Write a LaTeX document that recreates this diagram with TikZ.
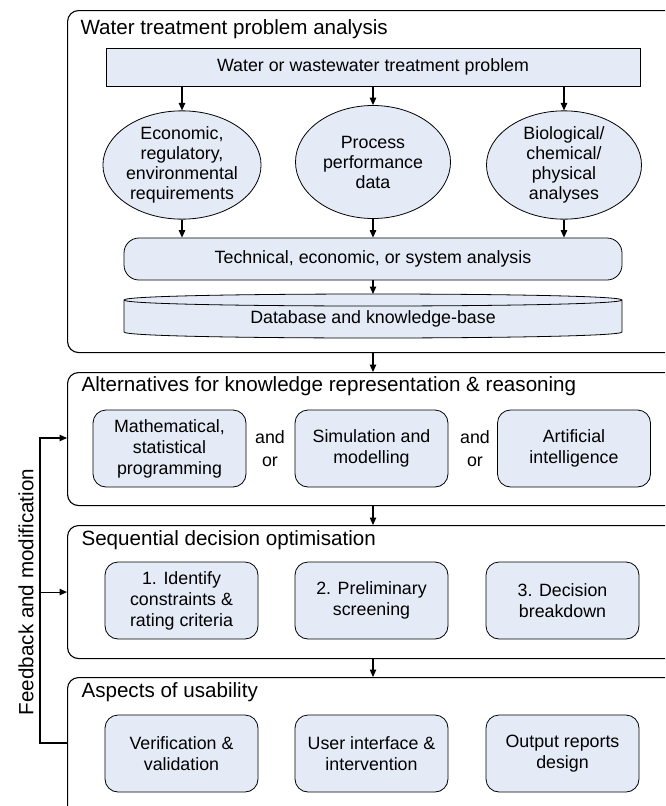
\documentclass[tikz,border=0pt]{standalone}
\usepackage{fontspec}
\setmainfont{Liberation Sans}
\usetikzlibrary{shapes.geometric,arrows.meta}
\definecolor{boxfill}{RGB}{229,235,246}
\begin{document}
\begin{tikzpicture}[x=1pt, y=-1pt,
    every node/.style={font=\fontsize{17.8}{21}\selectfont},
    panel/.style={draw, line width=1.1pt, rounded corners=11pt, minimum width=640pt, anchor=north west, inner sep=0pt},
    ptitle/.style={anchor=base west, font=\fontsize{20.6}{24}\selectfont},
    box/.style={draw, fill=boxfill, line width=0.8pt, rounded corners=13pt, minimum width=153pt, minimum height=77pt, align=center, inner sep=2pt},
    bubble/.style={draw, fill=boxfill, line width=0.8pt, ellipse, minimum width=155pt, minimum height=104pt, inner sep=0pt, align=center, font=\fontsize{17.8}{20}\selectfont},
    flow/.style={-{Triangle[length=7.5pt,width=6.5pt]}, line width=1.1pt}]
    \useasboundingbox (0,0) rectangle (665,806) ;
    \clip (0,0) rectangle (665,806) ;

    \node[panel, minimum height=342pt] (pA) at (67,10) {} ;
    \node[panel, minimum height=133pt] (pB) at (67,372) {} ;
    \node[panel, minimum height=133pt] (pC) at (67,525) {} ;
    \node[panel, minimum height=170pt] (pD) at (67,677) {} ;
    \node[ptitle] (tA) at (77,34) {Water treatment problem analysis} ;
    \node[ptitle] (tB) at (78,391) {Alternatives for knowledge representation \& reasoning} ;
    \node[ptitle] (tC) at (78,545) {Sequential decision optimisation} ;
    \node[ptitle] (tD) at (78,697) {Aspects of usability} ;

    \node[draw, fill=boxfill, line width=0.8pt, minimum width=534pt, minimum height=38pt] (prob) at (373,67) {Water or wastewater treatment problem} ;
    \node[bubble] (econ) at (182,165) {Economic,\\regulatory,\\environmental\\requirements} ;
    \node[bubble, minimum height=113pt] (perf) at (373,162) {Process\\performance\\data} ;
    \node[bubble] (bio) at (564,165) {Biological/\\chemical/\\physical\\analyses} ;
    \node[draw, fill=boxfill, line width=0.8pt, rounded corners=15pt, minimum width=498pt, minimum height=42pt] (tech) at (373,259) {Technical, economic, or system analysis} ;
    \draw[fill=boxfill, line width=0.8pt] (124,300) -- (124,332) .. controls (124,340) and (622,340) .. (622,332) -- (622,300) .. controls (622,292) and (124,292) .. (124,300) -- cycle ;
    \draw[line width=0.8pt] (124,300) .. controls (124,308) and (622,308) .. (622,300) ;
    \coordinate (dbtop) at (373,294) ;
    \node (db) at (373,319) {Database and knowledge-base} ;

    \draw[flow] (prob.south -| econ.north) -- (econ.north) ;
    \draw[flow] (prob.south -| perf.north) -- (perf.north) ;
    \draw[flow] (prob.south -| bio.north) -- (bio.north) ;
    \draw[flow] (econ.south) -- (econ.south |- tech.north) ;
    \draw[flow] (perf.south) -- (perf.south |- tech.north) ;
    \draw[flow] (bio.south) -- (bio.south |- tech.north) ;
    \draw[flow] (tech.south) -- (dbtop) ;

    \node[box] (math) at (169.5,448.5) {Mathematical,\\statistical\\programming} ;
    \node[box] (sim) at (371.5,448.5) {Simulation and\\modelling} ;
    \node[box] (ai) at (574,448.5) {Artificial\\intelligence} ;
    \node[align=center, font=\fontsize{17.8}{23}\selectfont] (andA) at (270,448.5) {and\\or} ;
    \node[align=center, font=\fontsize{17.8}{23}\selectfont] (andB) at (475,448.5) {and\\or} ;

    \node[box] (ident) at (181.5,600.5) {1. Identify\\constraints \&\\rating criteria} ;
    \node[box] (screen) at (371.5,600.5) {2. Preliminary\\screening} ;
    \node[box] (brk) at (562.5,600.5) {3. Decision\\breakdown} ;

    \node[box] (verif) at (181.5,753.5) {Verification \&\\validation} ;
    \node[box] (ui) at (371.5,753.5) {User interface \&\\intervention} ;
    \node[box] (out) at (562.5,753.5) {Output reports\\design} ;

    \draw[flow] (pA.south -| perf.south) -- (pB.north -| perf.south) ;
    \draw[flow] (pB.south -| perf.south) -- (pC.north -| perf.south) ;
    \draw[flow] (pC.south -| perf.south) -- (pD.north -| perf.south) ;

    \coordinate (fbtop) at (40,438) ;
    \coordinate (fbbot) at (40,743) ;
    \draw[flow] (fbbot -| pD.west) -- (fbbot) -- (fbtop) -- (fbtop -| pB.west) ;
    \draw[flow] (fbbot |- pC.west) -- (pC.west) ;
    \node[rotate=90, font=\fontsize{20.6}{24}\selectfont] (fblabel) at (26,592) {Feedback and modification} ;
\end{tikzpicture}
\end{document}
